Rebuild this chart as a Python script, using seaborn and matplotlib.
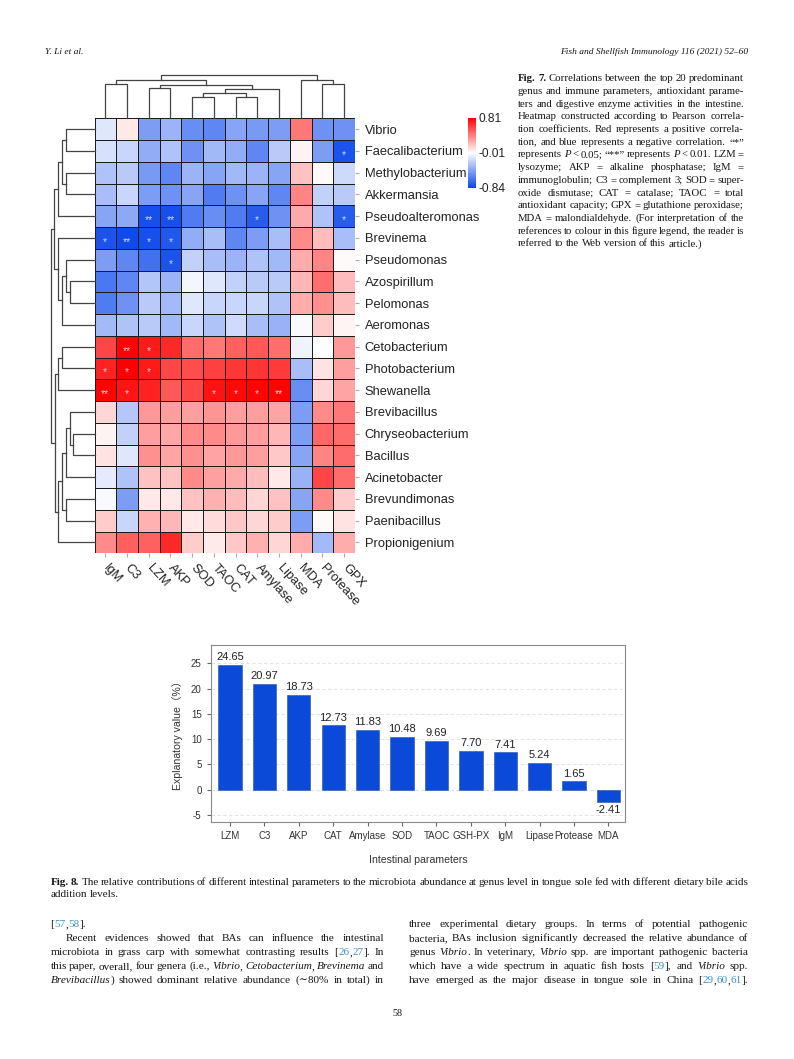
import re
import numpy as np
import pandas as pd
import matplotlib
matplotlib.use("Agg")
import matplotlib.pyplot as plt
import seaborn as sns
from matplotlib.colors import LinearSegmentedColormap

# ---- Fig. 7 data: Pearson correlations genus x intestinal parameter ----
genera = ["Vibrio", "Faecalibacterium", "Methylobacterium", "Akkermansia",
          "Pseudoalteromonas", "Brevinema", "Pseudomonas", "Azospirillum",
          "Pelomonas", "Aeromonas", "Cetobacterium", "Photobacterium",
          "Shewanella", "Brevibacillus", "Chryseobacterium", "Bacillus",
          "Acinetobacter", "Brevundimonas", "Paenibacillus", "Propionigenium"]
hm_params = ["IgM", "C3", "LZM", "AKP", "SOD", "TAOC", "CAT", "Amylase",
             "Lipase", "MDA", "Protease", "GPX"]
corr = [
    [-0.12, 0.06, -0.45, -0.35, -0.52, -0.55, -0.42, -0.47, -0.45, 0.42, -0.50, -0.50],
    [-0.15, -0.20, -0.38, -0.28, -0.50, -0.33, -0.38, -0.55, -0.25, 0.03, -0.45, -0.78],
    [-0.28, -0.25, -0.47, -0.55, -0.35, -0.42, -0.33, -0.35, -0.42, 0.18, 0.00, -0.18],
    [-0.30, -0.20, -0.45, -0.50, -0.42, -0.60, -0.50, -0.42, -0.55, 0.38, -0.22, -0.25],
    [-0.42, -0.40, -0.80, -0.80, -0.60, -0.52, -0.60, -0.74, -0.50, 0.26, -0.28, -0.74],
    [-0.78, -0.82, -0.80, -0.76, -0.38, -0.30, -0.55, -0.45, -0.30, 0.36, 0.20, -0.30],
    [-0.45, -0.55, -0.65, -0.78, -0.22, -0.30, -0.35, -0.28, -0.33, 0.25, 0.38, 0.00],
    [-0.62, -0.55, -0.27, -0.35, -0.06, -0.12, -0.22, -0.25, -0.25, 0.22, 0.45, 0.20],
    [-0.60, -0.50, -0.25, -0.32, -0.12, -0.20, -0.20, -0.20, -0.28, 0.25, 0.35, 0.20],
    [-0.32, -0.28, -0.25, -0.33, -0.20, -0.28, -0.17, -0.30, -0.36, -0.04, 0.15, 0.02],
    [0.58, 0.80, 0.72, 0.68, 0.46, 0.42, 0.50, 0.52, 0.45, -0.07, -0.02, 0.32],
    [0.70, 0.81, 0.72, 0.58, 0.56, 0.60, 0.63, 0.64, 0.62, -0.30, 0.08, 0.30],
    [0.80, 0.74, 0.70, 0.52, 0.58, 0.75, 0.78, 0.80, 0.80, -0.52, 0.12, 0.28],
    [0.12, -0.26, 0.32, 0.30, 0.30, 0.33, 0.30, 0.30, 0.28, -0.45, 0.36, 0.42],
    [0.03, -0.22, 0.30, 0.27, 0.36, 0.36, 0.32, 0.30, 0.22, -0.45, 0.48, 0.46],
    [0.08, -0.12, 0.34, 0.28, 0.34, 0.28, 0.32, 0.30, 0.16, -0.42, 0.38, 0.46],
    [-0.10, -0.28, 0.18, 0.18, 0.36, 0.29, 0.26, 0.20, 0.06, -0.36, 0.58, 0.46],
    [-0.04, -0.45, 0.06, 0.06, 0.18, 0.24, 0.20, 0.12, 0.18, -0.42, 0.36, 0.15],
    [0.15, -0.20, 0.24, 0.22, 0.06, 0.10, 0.16, 0.12, 0.15, -0.45, 0.00, 0.08],
    [0.36, 0.50, 0.50, 0.68, 0.15, 0.05, 0.16, 0.24, 0.12, 0.25, -0.32, 0.25],
]
# significance marks, one row per genus, 12 comma separated fields
sig_rows = [
    ",,,,,,,,,,,", ",,,,,,,,,,,*", ",,,,,,,,,,,", ",,,,,,,,,,,",
    ",,**,**,,,,*,,,,*", "*,**,*,*,,,,,,,,", ",,,*,,,,,,,,", ",,,,,,,,,,,",
    ",,,,,,,,,,,", ",,,,,,,,,,,", ",**,*,,,,,,,,,", "*,*,*,,,,,,,,,",
    "**,*,,,,*,*,*,**,,,", ",,,,,,,,,,,", ",,,,,,,,,,,", ",,,,,,,,,,,",
    ",,,,,,,,,,,", ",,,,,,,,,,,", ",,,,,,,,,,,", ",,,,,,,,,,,",
]
cbar_ticks = [-0.84, -0.01, 0.81]

# cluster trees: (height, left, right), leaves are column / row indices
col_tree = (43, (38, (34, 0, 1), (33.7, (30, 2, 3),
                                   (29.7, (25.3, (21.3, 4, 5), (21.3, 6, 7)), 8))),
            (38, 9, (34, 10, 11)))
row_tree = (43.5,
            (40.2, (36.2, (32.2, (28.3, 0, 1), (28.3, 2, 3)), 4),
                   (36.2, 5, (32.2, (28.3, 6, (24.3, 7, 8)), 9))),
            (39.5, (36.2, (32.2, 10, 11), 12),
                   (36.2, (32.2, (28.3, (24.3, 13, (21.8, 14, 15)), 16),
                                 (28.3, 17, 18)), 19)))

# ---- Fig. 8 data ----
bar_params = ["LZM", "C3", "AKP", "CAT", "Amylase", "SOD", "TAOC", "GSH-PX",
              "IgM", "Lipase", "Protease", "MDA"]
explained = [24.65, 20.97, 18.73, 12.73, 11.83, 10.48, 9.69, 7.70, 7.41,
             5.24, 1.65, -2.41]

# ---- page text ----
fig7_caption = [
    "{b:Fig.} {b:7.} Correlations between the top 20 predominant",
    "genus and immune parameters, antioxidant parame-",
    "ters and digestive enzyme activities in the intestine.",
    "Heatmap constructed according to Pearson correla-",
    "tion coefficients. Red represents a positive correla-",
    "tion, and blue represents a negative correlation. \u201c*\u201d",
    "represents {i:P} < 0.05; \u201c**\u201d represents {i:P} < 0.01. LZM =",
    "lysozyme; AKP = alkaline phosphatase; IgM =",
    "immunoglobulin; C3 = complement 3; SOD = super-",
    "oxide dismutase; CAT = catalase; TAOC = total",
    "antioxidant capacity; GPX = glutathione peroxidase;",
    "MDA = malondialdehyde. (For interpretation of the",
    "references to colour in this figure legend, the reader is",
    "referred to the Web version of this article.)",
]
fig8_caption = [
    "{b:Fig.} {b:8.} The relative contributions of different intestinal parameters to the "
    "microbiota abundance at genus level in tongue sole fed with different dietary bile acids",
    "addition levels.",
]
left_col = [
    "[{c:57},{c:58}].",
    "Recent evidences showed that BAs can influence the intestinal",
    "microbiota in grass carp with somewhat contrasting results [{c:26},{c:27}]. In",
    "this paper, overall, four genera (i.e., {i:Vibrio}, {i:Cetobacterium}, {i:Brevinema} and",
    "{i:Brevibacillus}) showed dominant relative abundance (\u223c80% in total) in",
]
right_col = [
    "three experimental dietary groups. In terms of potential pathogenic",
    "bacteria, BAs inclusion significantly decreased the relative abundance of",
    "genus {i:Vibrio}. In veterinary, {i:Vibrio} spp. are important pathogenic bacteria",
    "which have a wide spectrum in aquatic fish hosts [{c:59}], and {i:Vibrio} spp.",
    "have emerged as the major disease in tongue sole in China [{c:29},{c:60},{c:61}].",
]

plt.rcParams["font.family"] = ["Liberation Sans", "DejaVu Sans"]
plt.rcParams["axes.unicode_minus"] = False

W, H = 794, 1059
fig = plt.figure(figsize=(W / 100, H / 100), dpi=100)
renderer = fig.canvas.get_renderer()
SERIF = ["Liberation Serif", "DejaVu Serif"]
LINK = "#3d8fc6"
MIN_GAP = 0.17  # tightest word gap allowed, in em


def px_rect(left, top, right, bottom):
    return [left / W, 1 - bottom / H, (right - left) / W, (bottom - top) / H]


def make_words(line, size, y):
    words = []
    for w in line.split(" "):
        segs = []
        for m in re.finditer(r"\{([ibc]):([^}]*)\}|([^{]+)", w):
            kind = m.group(1) or "n"
            s = m.group(2) if m.group(1) else m.group(3)
            t = fig.text(0, 1 - y / H, s, fontsize=size, family=SERIF,
                         style="italic" if kind == "i" else "normal",
                         weight="bold" if kind == "b" else "normal",
                         color=LINK if kind == "c" else "#161616",
                         va="baseline", ha="left")
            segs.append((t, t.get_window_extent(renderer).width))
        words.append(segs)
    return words


def natural_width(line, size):
    words = make_words(line, size, 0)
    total = sum(sw for segs in words for _, sw in segs)
    total += (len(words) - 1) * size * 100 / 72 * MIN_GAP
    for segs in words:
        for t, _ in segs:
            t.remove()
    return total


def fit_size(lines, x0, x1, size, skip_last=True):
    # largest size at which every justified line keeps the minimum word gap
    check = lines[:-1] if skip_last and len(lines) > 1 else lines
    ratio = min((x1 - x0) / natural_width(l, size) for l in check)
    return size * ratio * 0.995


def put_line(x0, x1, y, line, size, justify=True):
    # y is the text baseline in page pixels
    words = make_words(line, size, y)
    widths = [sum(wd for _, wd in segs) for segs in words]
    gap = size * 100 / 72 * 0.25
    if justify and len(words) > 1:
        gap = (x1 - x0 - sum(widths)) / (len(words) - 1)
    x = x0
    for segs, wd in zip(words, widths):
        xx = x
        for t, sw in segs:
            t.set_x(xx / W)
            xx += sw
        x += wd + gap


def draw_tree(ax, node, vertical):
    if isinstance(node, int):
        return node + 0.5, 0.0
    h, a, b = node
    pa, ha = draw_tree(ax, a, vertical)
    pb, hb = draw_tree(ax, b, vertical)
    pos = [pa, pa, pb, pb]
    hts = [ha, h, h, hb]
    if vertical:
        ax.plot(pos, hts, color="#444444", lw=0.9, clip_on=False)
    else:
        ax.plot(hts, pos, color="#444444", lw=0.9, clip_on=False)
    return (pa + pb) / 2, h


# ---- heatmap ----
hm_ax = fig.add_axes(px_rect(94.5, 118.3, 355, 553.3))
col_ax = fig.add_axes(px_rect(94.5, 74, 355, 118.3))
row_ax = fig.add_axes(px_rect(50, 118.3, 94.5, 553.3))
cb_ax = fig.add_axes(px_rect(468, 118, 476, 188))

corr_df = pd.DataFrame(corr, index=genera, columns=hm_params)
sig = np.array([r.split(",") for r in sig_rows])
cmap = LinearSegmentedColormap.from_list("ph", ["#0a46eb", "#ffffff", "#ff0000"])

sns.heatmap(corr_df, ax=hm_ax, cmap=cmap, vmin=-0.84, vmax=0.81,
            linewidths=0.7, linecolor="#1c1c1c", annot=sig, fmt="",
            annot_kws={"size": 7.5, "color": "white", "alpha": 0.8},
            cbar_ax=cb_ax, cbar_kws={"ticks": cbar_ticks})
for t in hm_ax.texts:
    x, y = t.get_position()
    t.set_position((x, y + 0.18))

hm_ax.yaxis.tick_right()
hm_ax.set_xlabel("")
hm_ax.set_ylabel("")
hm_ax.set_yticklabels(genera, rotation=0, fontsize=9.3, color="#222222")
hm_ax.set_xticklabels(hm_params, rotation=-48, ha="left", va="center",
                      rotation_mode="anchor", fontsize=9.3, color="#222222")
hm_ax.tick_params(axis="y", length=3, color="#aaaaaa", pad=4)
hm_ax.tick_params(axis="x", length=3, color="#aaaaaa", pad=6)

cb = hm_ax.collections[0].colorbar
cb.outline.set_visible(False)
cb.set_ticklabels(["-0.84", "-0.01", "0.81"])
cb_ax.tick_params(length=0, labelsize=8.6, pad=2, labelcolor="#222222")

col_ax.set_xlim(0, len(hm_params))
col_ax.set_ylim(0, 44.3)
draw_tree(col_ax, col_tree, True)
col_ax.axis("off")

row_ax.set_xlim(44.5, 0)
row_ax.set_ylim(len(genera), 0)
draw_tree(row_ax, row_tree, False)
row_ax.axis("off")

# ---- bar chart ----
bar_ax = fig.add_axes(px_rect(210.7, 645, 625, 821.7))
sns.barplot(x=bar_params, y=explained, ax=bar_ax, color="#0b49d8",
            saturation=1, width=0.68, edgecolor="#2a4fa8", linewidth=0.4)
bar_ax.bar_label(bar_ax.containers[0], fmt="%.2f", padding=2,
                 fontsize=8, color="#222222")
bar_ax.set_xlim(-0.56, 11.48)
bar_ax.set_ylim(-6.3, 28.6)
bar_ax.set_yticks([-5, 0, 5, 10, 15, 20, 25])
bar_ax.yaxis.grid(True, ls=(0, (4, 3)), color="#dddddd", lw=0.6)
bar_ax.set_axisbelow(True)
for s in bar_ax.spines.values():
    s.set_color("#8a8a8a")
    s.set_linewidth(0.8)
bar_ax.tick_params(labelsize=7, length=3, color="#666666", labelcolor="#333333")
bar_ax.set_xlabel("Intestinal parameters", fontsize=7.6, color="#333333", labelpad=10)
bar_ax.set_ylabel("Explanatory value\uff08%\uff09", fontsize=7.6, color="#333333",
                  family=["Liberation Sans", "Noto Sans CJK SC"], labelpad=6)

# ---- page text ----
fig.text(45 / W, 1 - 54.5 / H, "Y. Li et al.", fontsize=6.8, family=SERIF,
         style="italic", va="baseline", color="#161616")
fig.text(748 / W, 1 - 54.5 / H, "Fish and Shellfish Immunology 116 (2021) 52\u201360",
         fontsize=6.8, family=SERIF, style="italic", va="baseline", ha="right",
         color="#161616")

cap_size = fit_size(fig7_caption, 517.7, 744, 6.5)
for k, line in enumerate(fig7_caption):
    put_line(517.7, 744, 81.2 + 12.7 * k, line, cap_size,
             justify=k < len(fig7_caption) - 1)

cap8_size = fit_size(fig8_caption, 50.5, 748, 6.5)
for k, line in enumerate(fig8_caption):
    put_line(50.5, 748, 884.6 + 12.3 * k, line, cap8_size, justify=k == 0)

body_size = min(fit_size(left_col[1:], 50.5, 384, 7.2, skip_last=False),
                fit_size(right_col, 409, 748, 7.2, skip_last=False))
for k, line in enumerate(left_col):
    x0 = 66 if k == 1 else 50.5
    put_line(x0, 384, 926.8 + 14 * k, line, body_size, justify=k > 0)
for k, line in enumerate(right_col):
    put_line(409, 748, 926.8 + 14 * k, line, body_size, justify=True)

fig.text(397 / W, 1 - 1016 / H, "58", fontsize=body_size * 0.9, family=SERIF,
         ha="center", va="baseline", color="#161616")

fig.savefig("out.png", dpi=100)
